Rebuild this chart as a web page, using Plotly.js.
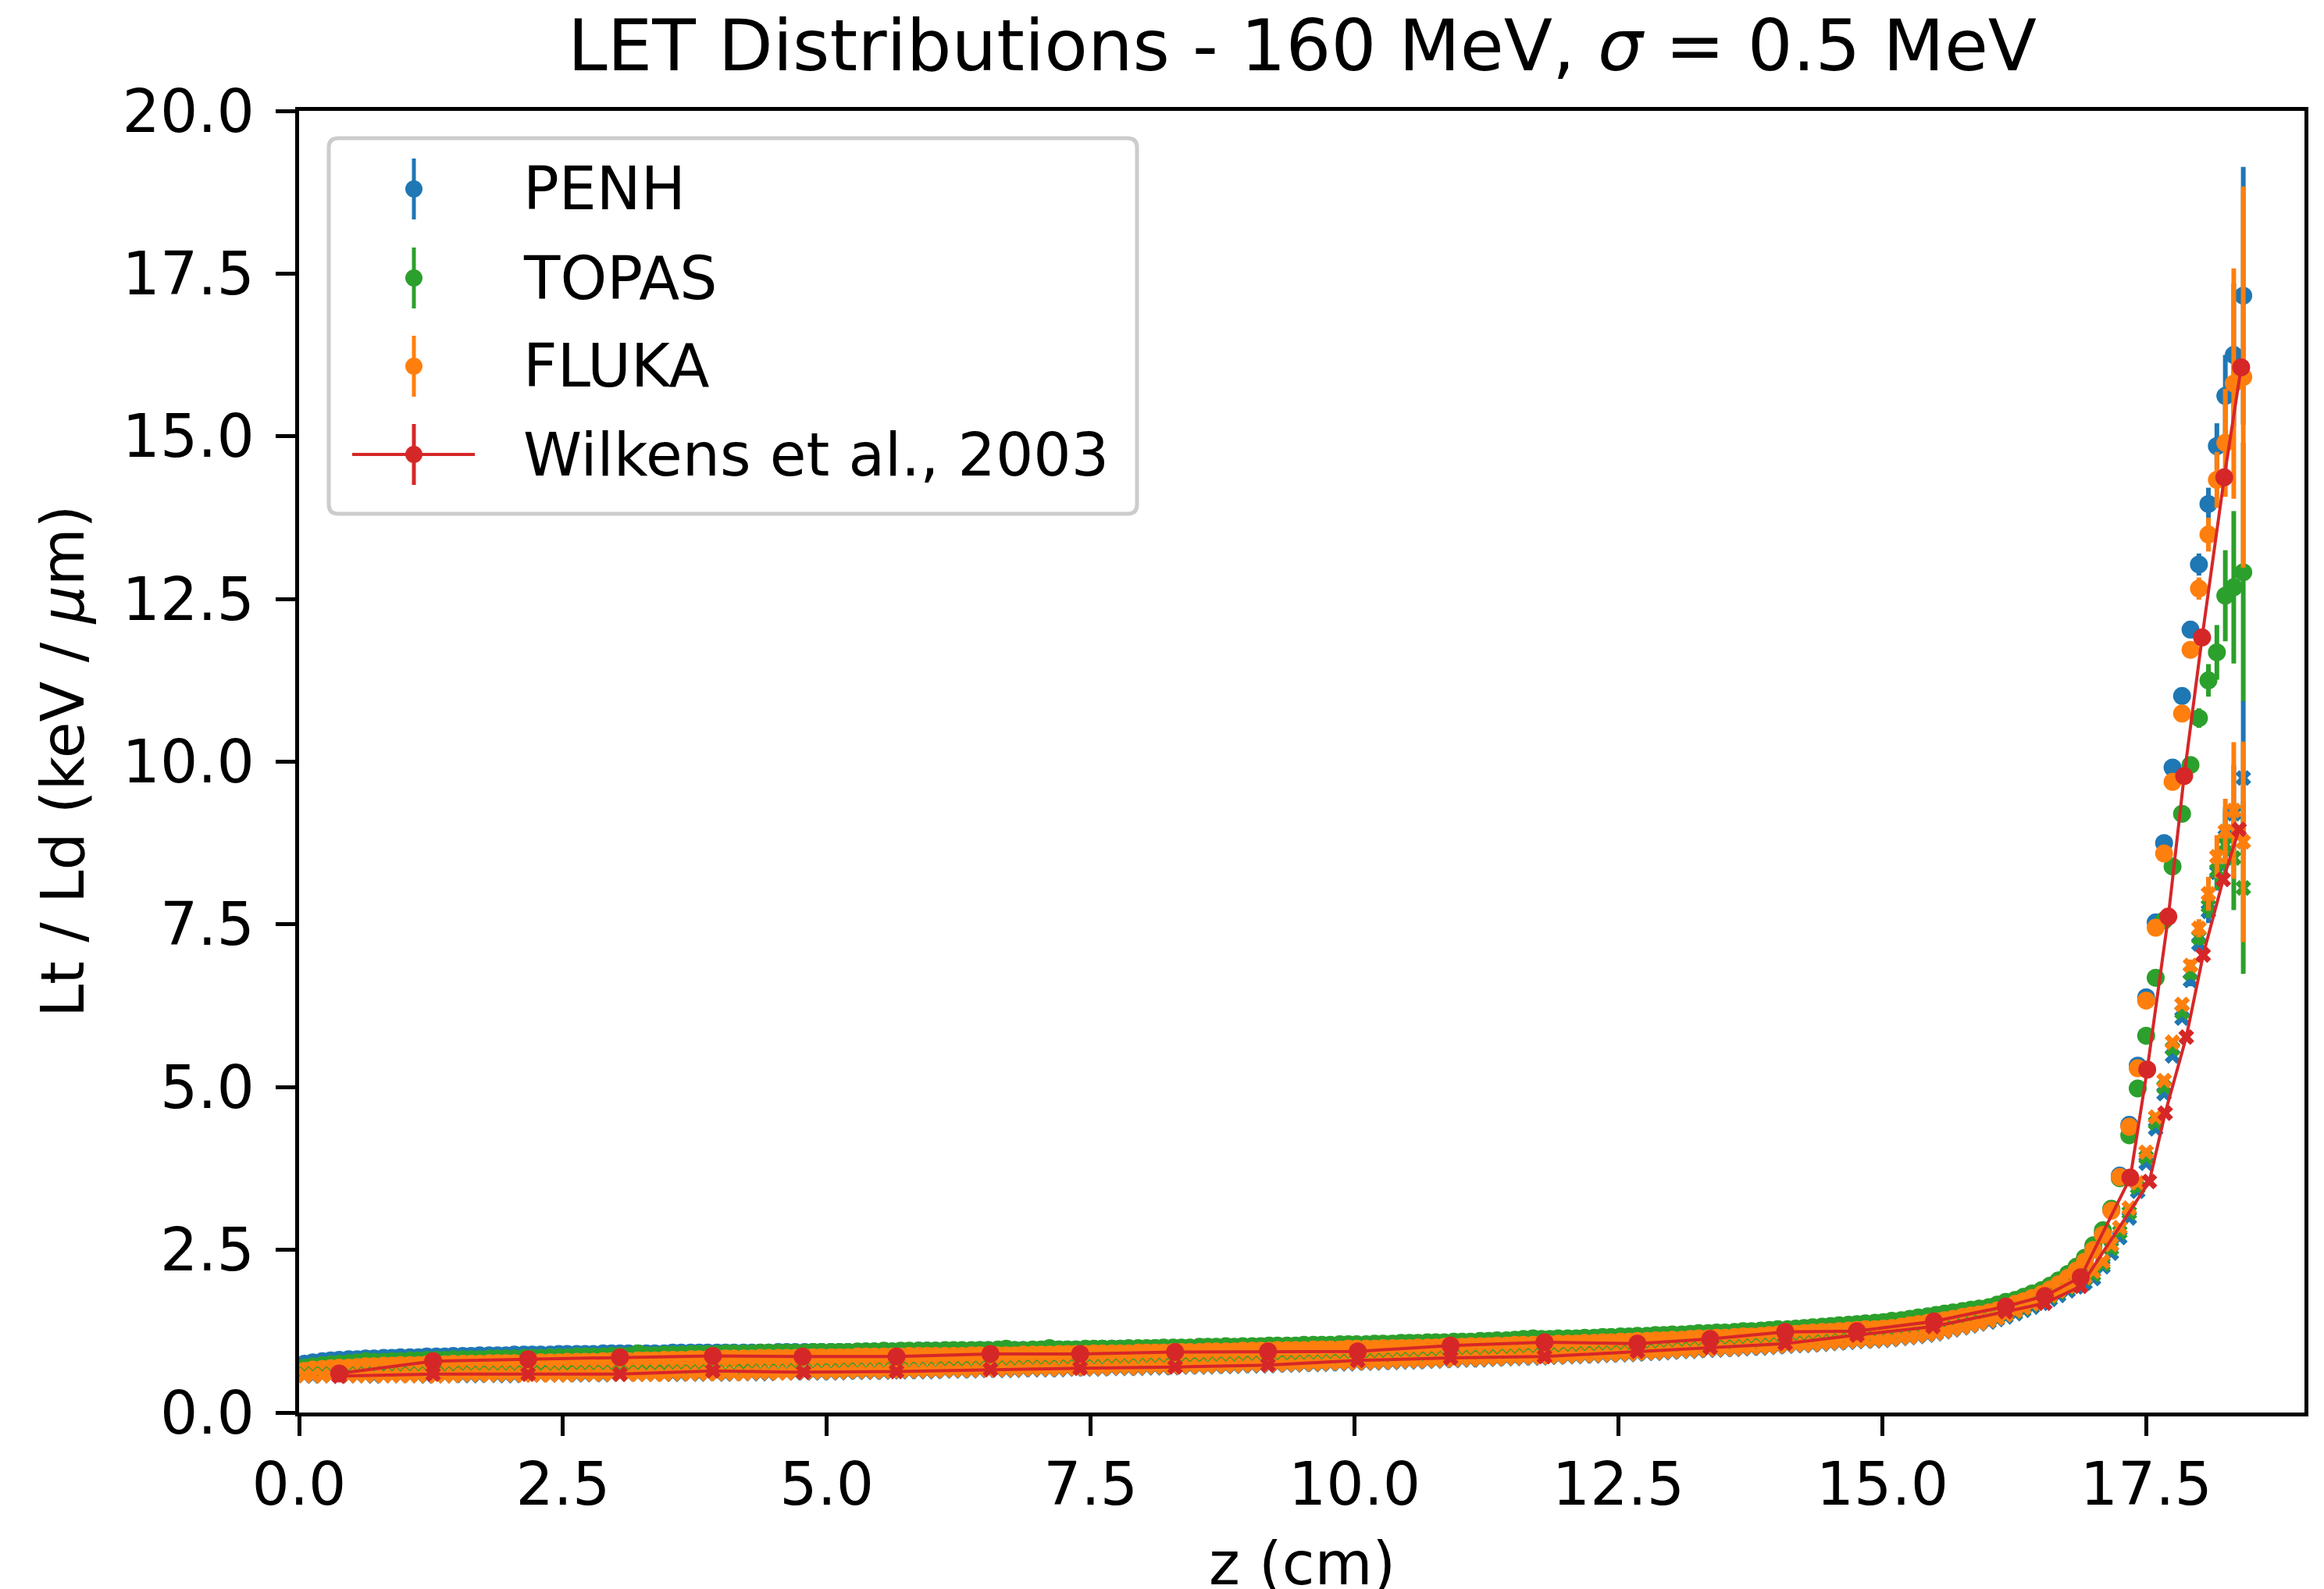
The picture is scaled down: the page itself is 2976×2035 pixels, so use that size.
<!DOCTYPE html>
<html>
<head>
<meta charset="utf-8">
<script src="https://cdn.plot.ly/plotly-3.0.1.min.js"></script>
<style>
  html, body { margin: 0; padding: 0; background: #ffffff; }
  #chart { width: 2976px; height: 2035px; }
</style>
</head>
<body>
<div id="chart"></div>
<script>
// Depth bins (cm) shared by the three Monte Carlo codes
const zMC = [
  0.05, 0.13, 0.22, 0.30, 0.38, 0.47, 0.55, 0.63, 0.71, 0.80, 0.88, 0.96,
  1.05, 1.13, 1.21, 1.30, 1.38, 1.46, 1.55, 1.63, 1.71, 1.80, 1.88, 1.96,
  2.04, 2.13, 2.21, 2.29, 2.38, 2.46, 2.54, 2.63, 2.71, 2.79, 2.88, 2.96,
  3.04, 3.12, 3.21, 3.29, 3.37, 3.46, 3.54, 3.62, 3.71, 3.79, 3.87, 3.96,
  4.04, 4.12, 4.21, 4.29, 4.37, 4.45, 4.54, 4.62, 4.70, 4.79, 4.87, 4.95,
  5.04, 5.12, 5.20, 5.29, 5.37, 5.45, 5.54, 5.62, 5.70, 5.78, 5.87, 5.95,
  6.03, 6.12, 6.20, 6.28, 6.37, 6.45, 6.53, 6.62, 6.70, 6.78, 6.86, 6.95,
  7.03, 7.11, 7.20, 7.28, 7.36, 7.45, 7.53, 7.61, 7.70, 7.78, 7.86, 7.95,
  8.03, 8.11, 8.19, 8.28, 8.36, 8.44, 8.53, 8.61, 8.69, 8.78, 8.86, 8.94,
  9.03, 9.11, 9.19, 9.27, 9.36, 9.44, 9.52, 9.61, 9.69, 9.77, 9.86, 9.94,
  10.02, 10.11, 10.19, 10.27, 10.36, 10.44, 10.52, 10.60, 10.69, 10.77, 10.85, 10.94,
  11.02, 11.10, 11.19, 11.27, 11.35, 11.44, 11.52, 11.60, 11.69, 11.77, 11.85, 11.93,
  12.02, 12.10, 12.18, 12.27, 12.35, 12.43, 12.52, 12.60, 12.68, 12.77, 12.85, 12.93,
  13.01, 13.10, 13.18, 13.26, 13.35, 13.43, 13.51, 13.60, 13.68, 13.76, 13.85, 13.93,
  14.01, 14.10, 14.18, 14.26, 14.34, 14.43, 14.51, 14.59, 14.68, 14.76, 14.84, 14.93,
  15.01, 15.09, 15.18, 15.26, 15.34, 15.43, 15.51, 15.59, 15.67, 15.76, 15.84, 15.92,
  16.01, 16.09, 16.17, 16.26, 16.34, 16.42, 16.51, 16.59, 16.67, 16.76, 16.84, 16.92,
  17.00, 17.09, 17.17, 17.25, 17.34, 17.42, 17.50, 17.59, 17.67, 17.75, 17.84, 17.92,
  18.00, 18.09, 18.17, 18.25, 18.33, 18.42
];

// Track-averaged LET (keV/um)
const penhLt = [
  0.75, 0.77, 0.79, 0.80, 0.81, 0.82, 0.82, 0.83, 0.83, 0.84, 0.84, 0.85,
  0.85, 0.85, 0.86, 0.86, 0.86, 0.87, 0.87, 0.87, 0.88, 0.88, 0.88, 0.88,
  0.89, 0.89, 0.89, 0.89, 0.89, 0.90, 0.90, 0.90, 0.90, 0.90, 0.91, 0.91,
  0.91, 0.91, 0.91, 0.91, 0.91, 0.91, 0.92, 0.92, 0.92, 0.92, 0.92, 0.92,
  0.92, 0.92, 0.92, 0.92, 0.92, 0.92, 0.93, 0.93, 0.93, 0.93, 0.93, 0.93,
  0.93, 0.93, 0.93, 0.93, 0.94, 0.94, 0.94, 0.94, 0.94, 0.94, 0.95, 0.95,
  0.95, 0.95, 0.95, 0.95, 0.95, 0.96, 0.96, 0.96, 0.96, 0.96, 0.96, 0.96,
  0.96, 0.96, 0.97, 0.97, 0.97, 0.97, 0.97, 0.98, 0.98, 0.98, 0.98, 0.98,
  0.98, 0.99, 0.99, 0.99, 0.99, 0.99, 1.00, 1.00, 1.00, 1.00, 1.00, 1.01,
  1.01, 1.01, 1.01, 1.02, 1.02, 1.02, 1.02, 1.03, 1.03, 1.03, 1.03, 1.04,
  1.04, 1.04, 1.04, 1.05, 1.05, 1.05, 1.05, 1.06, 1.06, 1.06, 1.07, 1.07,
  1.07, 1.08, 1.08, 1.08, 1.09, 1.09, 1.10, 1.10, 1.10, 1.11, 1.11, 1.12,
  1.13, 1.13, 1.13, 1.14, 1.14, 1.15, 1.15, 1.16, 1.16, 1.17, 1.17, 1.18,
  1.19, 1.19, 1.20, 1.20, 1.21, 1.22, 1.22, 1.23, 1.23, 1.24, 1.25, 1.25,
  1.27, 1.27, 1.28, 1.29, 1.30, 1.31, 1.32, 1.33, 1.34, 1.35, 1.36, 1.37,
  1.38, 1.40, 1.41, 1.43, 1.45, 1.47, 1.49, 1.51, 1.53, 1.55, 1.57, 1.59,
  1.61, 1.64, 1.68, 1.71, 1.76, 1.81, 1.86, 1.93, 2.01, 2.11, 2.22, 2.36,
  2.54, 2.76, 3.12, 3.64, 4.42, 5.33, 6.38, 7.53, 8.75, 9.91, 11.01, 12.03,
  13.03, 13.96, 14.85, 15.62, 16.25, 17.16
];
const topasLt = [
  0.69, 0.71, 0.73, 0.74, 0.75, 0.76, 0.77, 0.79, 0.78, 0.78, 0.79, 0.79,
  0.80, 0.80, 0.81, 0.81, 0.81, 0.82, 0.82, 0.82, 0.82, 0.83, 0.83, 0.83,
  0.83, 0.84, 0.84, 0.84, 0.85, 0.85, 0.85, 0.86, 0.86, 0.86, 0.86, 0.87,
  0.87, 0.87, 0.91, 0.88, 0.88, 0.89, 0.89, 0.89, 0.90, 0.90, 0.90, 0.90,
  0.91, 0.91, 0.91, 0.91, 0.92, 0.92, 0.92, 0.92, 0.92, 0.92, 0.93, 0.93,
  0.93, 0.93, 0.93, 0.94, 0.94, 0.94, 0.95, 0.94, 0.95, 0.95, 0.95, 0.95,
  0.95, 0.96, 0.96, 0.96, 0.96, 0.96, 0.96, 0.97, 0.98, 0.96, 0.96, 0.97,
  0.97, 0.99, 0.97, 0.97, 0.97, 0.98, 0.98, 0.98, 0.98, 0.98, 0.99, 0.99,
  0.99, 0.99, 1.00, 1.00, 1.00, 1.00, 1.01, 1.01, 1.01, 1.02, 1.01, 1.02,
  1.02, 1.02, 1.03, 1.03, 1.03, 1.03, 1.04, 1.04, 1.04, 1.04, 1.05, 1.05,
  1.05, 1.05, 1.06, 1.06, 1.06, 1.07, 1.07, 1.07, 1.08, 1.08, 1.08, 1.09,
  1.09, 1.09, 1.10, 1.10, 1.11, 1.11, 1.12, 1.13, 1.14, 1.13, 1.13, 1.14,
  1.14, 1.14, 1.15, 1.15, 1.16, 1.16, 1.17, 1.17, 1.18, 1.18, 1.19, 1.19,
  1.20, 1.20, 1.21, 1.22, 1.22, 1.23, 1.23, 1.24, 1.25, 1.25, 1.26, 1.27,
  1.28, 1.28, 1.29, 1.30, 1.31, 1.32, 1.33, 1.34, 1.35, 1.36, 1.37, 1.38,
  1.39, 1.41, 1.42, 1.44, 1.46, 1.48, 1.50, 1.52, 1.54, 1.56, 1.58, 1.60,
  1.62, 1.66, 1.70, 1.73, 1.78, 1.83, 1.88, 1.95, 2.03, 2.13, 2.24, 2.38,
  2.57, 2.80, 3.13, 3.60, 4.26, 4.98, 5.79, 6.68, 7.56, 8.39, 9.20, 9.95,
  10.67, 11.25, 11.68, 12.55, 12.68, 12.91
];
const flukaLt = [
  0.64, 0.66, 0.67, 0.68, 0.69, 0.69, 0.70, 0.71, 0.71, 0.72, 0.72, 0.73,
  0.73, 0.73, 0.74, 0.74, 0.74, 0.75, 0.75, 0.75, 0.75, 0.76, 0.76, 0.76,
  0.76, 0.76, 0.77, 0.77, 0.77, 0.77, 0.78, 0.78, 0.78, 0.78, 0.79, 0.79,
  0.79, 0.79, 0.80, 0.80, 0.80, 0.81, 0.81, 0.81, 0.82, 0.82, 0.82, 0.83,
  0.83, 0.83, 0.83, 0.83, 0.84, 0.84, 0.84, 0.84, 0.84, 0.85, 0.85, 0.85,
  0.85, 0.85, 0.85, 0.86, 0.86, 0.86, 0.86, 0.86, 0.86, 0.87, 0.87, 0.87,
  0.87, 0.87, 0.87, 0.87, 0.88, 0.88, 0.88, 0.88, 0.88, 0.88, 0.89, 0.89,
  0.89, 0.89, 0.90, 0.90, 0.90, 0.90, 0.91, 0.91, 0.91, 0.91, 0.91, 0.92,
  0.92, 0.92, 0.92, 0.93, 0.93, 0.93, 0.93, 0.94, 0.94, 0.94, 0.94, 0.95,
  0.95, 0.95, 0.95, 0.96, 0.96, 0.96, 0.96, 0.97, 0.97, 0.97, 0.97, 0.98,
  0.98, 0.98, 0.98, 0.99, 0.99, 0.99, 0.99, 1.00, 1.00, 1.00, 1.01, 1.01,
  1.01, 1.02, 1.02, 1.02, 1.03, 1.03, 1.04, 1.04, 1.04, 1.05, 1.05, 1.06,
  1.06, 1.06, 1.07, 1.07, 1.08, 1.08, 1.09, 1.09, 1.10, 1.10, 1.11, 1.11,
  1.12, 1.12, 1.13, 1.14, 1.14, 1.15, 1.15, 1.16, 1.17, 1.17, 1.18, 1.19,
  1.20, 1.21, 1.21, 1.22, 1.23, 1.24, 1.24, 1.25, 1.26, 1.27, 1.28, 1.28,
  1.29, 1.30, 1.32, 1.34, 1.36, 1.38, 1.40, 1.42, 1.44, 1.47, 1.49, 1.51,
  1.54, 1.57, 1.61, 1.67, 1.71, 1.76, 1.82, 1.89, 1.97, 2.07, 2.18, 2.32,
  2.50, 2.73, 3.10, 3.62, 4.39, 5.29, 6.33, 7.45, 8.59, 9.69, 10.74, 11.72,
  12.66, 13.49, 14.33, 14.90, 15.81, 15.91
];

// Dose-averaged LET (keV/um)
const penhLd = [
  0.57, 0.56, 0.57, 0.57, 0.56, 0.57, 0.57, 0.57, 0.56, 0.57, 0.57, 0.57,
  0.57, 0.57, 0.56, 0.57, 0.57, 0.57, 0.57, 0.57, 0.57, 0.58, 0.57, 0.57,
  0.57, 0.58, 0.58, 0.58, 0.58, 0.58, 0.58, 0.58, 0.58, 0.59, 0.58, 0.59,
  0.59, 0.59, 0.59, 0.59, 0.59, 0.59, 0.59, 0.59, 0.60, 0.59, 0.60, 0.60,
  0.59, 0.60, 0.60, 0.60, 0.60, 0.60, 0.61, 0.61, 0.61, 0.61, 0.61, 0.61,
  0.61, 0.61, 0.62, 0.62, 0.62, 0.62, 0.62, 0.63, 0.63, 0.63, 0.63, 0.63,
  0.63, 0.64, 0.64, 0.64, 0.64, 0.65, 0.65, 0.65, 0.65, 0.65, 0.66, 0.66,
  0.66, 0.66, 0.66, 0.67, 0.67, 0.67, 0.67, 0.67, 0.68, 0.68, 0.68, 0.68,
  0.69, 0.69, 0.69, 0.69, 0.70, 0.70, 0.70, 0.70, 0.71, 0.71, 0.71, 0.72,
  0.72, 0.72, 0.72, 0.73, 0.73, 0.73, 0.74, 0.74, 0.74, 0.75, 0.75, 0.75,
  0.76, 0.76, 0.76, 0.77, 0.77, 0.78, 0.78, 0.78, 0.79, 0.79, 0.80, 0.80,
  0.81, 0.81, 0.81, 0.82, 0.82, 0.83, 0.83, 0.84, 0.84, 0.84, 0.85, 0.85,
  0.86, 0.86, 0.87, 0.87, 0.88, 0.88, 0.89, 0.89, 0.90, 0.91, 0.91, 0.92,
  0.93, 0.94, 0.94, 0.95, 0.96, 0.96, 0.97, 0.97, 0.98, 0.99, 0.99, 1.00,
  1.01, 1.02, 1.03, 1.03, 1.04, 1.05, 1.06, 1.07, 1.08, 1.09, 1.10, 1.10,
  1.11, 1.12, 1.14, 1.15, 1.17, 1.19, 1.21, 1.24, 1.27, 1.30, 1.33, 1.36,
  1.39, 1.43, 1.47, 1.52, 1.57, 1.62, 1.68, 1.74, 1.80, 1.87, 1.93, 1.99,
  2.06, 2.24, 2.45, 2.69, 2.99, 3.40, 3.83, 4.36, 4.90, 5.48, 6.06, 6.64,
  7.20, 7.70, 8.30, 8.85, 9.20, 9.75
];
const topasLd = [
  0.59, 0.59, 0.59, 0.59, 0.60, 0.59, 0.59, 0.59, 0.59, 0.60, 0.59, 0.59,
  0.59, 0.59, 0.59, 0.60, 0.59, 0.59, 0.60, 0.60, 0.60, 0.60, 0.60, 0.60,
  0.60, 0.60, 0.60, 0.61, 0.60, 0.60, 0.61, 0.61, 0.61, 0.61, 0.61, 0.61,
  0.61, 0.61, 0.61, 0.62, 0.61, 0.62, 0.62, 0.62, 0.62, 0.62, 0.62, 0.62,
  0.62, 0.62, 0.63, 0.63, 0.63, 0.63, 0.63, 0.63, 0.64, 0.64, 0.64, 0.64,
  0.64, 0.64, 0.65, 0.65, 0.65, 0.65, 0.65, 0.66, 0.66, 0.66, 0.66, 0.66,
  0.66, 0.67, 0.67, 0.67, 0.67, 0.68, 0.68, 0.68, 0.68, 0.68, 0.69, 0.69,
  0.69, 0.69, 0.69, 0.70, 0.70, 0.70, 0.70, 0.70, 0.71, 0.71, 0.71, 0.71,
  0.72, 0.72, 0.72, 0.72, 0.73, 0.73, 0.73, 0.73, 0.74, 0.74, 0.74, 0.75,
  0.75, 0.75, 0.75, 0.76, 0.76, 0.76, 0.77, 0.77, 0.77, 0.78, 0.78, 0.78,
  0.79, 0.79, 0.79, 0.80, 0.80, 0.81, 0.81, 0.81, 0.82, 0.82, 0.83, 0.83,
  0.84, 0.84, 0.84, 0.85, 0.85, 0.86, 0.86, 0.87, 0.87, 0.87, 0.88, 0.88,
  0.89, 0.89, 0.90, 0.90, 0.91, 0.91, 0.92, 0.92, 0.93, 0.94, 0.94, 0.95,
  0.96, 0.97, 0.97, 0.98, 0.99, 0.99, 1.00, 1.00, 1.01, 1.02, 1.02, 1.03,
  1.04, 1.05, 1.06, 1.06, 1.07, 1.08, 1.09, 1.10, 1.11, 1.12, 1.13, 1.13,
  1.14, 1.15, 1.17, 1.18, 1.20, 1.22, 1.24, 1.27, 1.30, 1.33, 1.36, 1.39,
  1.42, 1.46, 1.50, 1.55, 1.60, 1.66, 1.72, 1.78, 1.85, 1.92, 1.99, 2.06,
  2.12, 2.28, 2.52, 2.77, 3.07, 3.46, 3.92, 4.45, 5.00, 5.59, 6.15, 6.75,
  7.30, 7.78, 8.33, 8.73, 8.52, 8.06
];
const flukaLd = [
  0.57, 0.57, 0.57, 0.57, 0.57, 0.57, 0.57, 0.57, 0.57, 0.57, 0.57, 0.57,
  0.57, 0.57, 0.57, 0.57, 0.57, 0.57, 0.58, 0.58, 0.58, 0.58, 0.58, 0.58,
  0.58, 0.58, 0.58, 0.58, 0.58, 0.58, 0.58, 0.59, 0.59, 0.59, 0.59, 0.59,
  0.59, 0.59, 0.59, 0.59, 0.59, 0.59, 0.60, 0.60, 0.60, 0.60, 0.60, 0.60,
  0.60, 0.60, 0.60, 0.61, 0.61, 0.61, 0.61, 0.61, 0.62, 0.62, 0.62, 0.62,
  0.62, 0.62, 0.63, 0.63, 0.63, 0.63, 0.63, 0.64, 0.64, 0.64, 0.64, 0.64,
  0.64, 0.65, 0.65, 0.65, 0.65, 0.66, 0.66, 0.66, 0.66, 0.66, 0.67, 0.67,
  0.67, 0.67, 0.67, 0.68, 0.68, 0.68, 0.68, 0.68, 0.69, 0.69, 0.69, 0.69,
  0.70, 0.70, 0.70, 0.70, 0.71, 0.71, 0.71, 0.71, 0.72, 0.72, 0.72, 0.73,
  0.73, 0.73, 0.73, 0.74, 0.74, 0.74, 0.75, 0.75, 0.75, 0.76, 0.76, 0.76,
  0.77, 0.77, 0.77, 0.78, 0.78, 0.79, 0.79, 0.79, 0.80, 0.80, 0.81, 0.81,
  0.82, 0.82, 0.82, 0.83, 0.83, 0.84, 0.84, 0.85, 0.85, 0.85, 0.86, 0.86,
  0.87, 0.87, 0.88, 0.88, 0.89, 0.89, 0.90, 0.90, 0.91, 0.92, 0.92, 0.93,
  0.94, 0.95, 0.95, 0.96, 0.97, 0.97, 0.98, 0.98, 0.99, 1.00, 1.00, 1.01,
  1.02, 1.03, 1.04, 1.04, 1.05, 1.06, 1.07, 1.08, 1.09, 1.10, 1.11, 1.11,
  1.12, 1.13, 1.15, 1.16, 1.18, 1.20, 1.22, 1.25, 1.28, 1.31, 1.34, 1.37,
  1.41, 1.45, 1.50, 1.56, 1.61, 1.67, 1.74, 1.80, 1.87, 1.94, 2.01, 2.08,
  2.17, 2.32, 2.58, 2.84, 3.14, 3.53, 4.00, 4.54, 5.10, 5.69, 6.27, 6.87,
  7.44, 7.97, 8.54, 8.93, 9.25, 8.77
];

// Statistical uncertainties of the last eight bins; shallower bins carry
// uncertainties smaller than the markers and are drawn as zero.
const penhLtErrTail  = [0.08, 0.12, 0.17, 0.25, 0.35, 0.63, 1.10, 1.98];
const topasLtErrTail = [0.08, 0.10, 0.15, 0.25, 0.42, 0.70, 1.17, 1.99];
const flukaLtErrTail = [0.08, 0.12, 0.17, 0.26, 0.43, 0.83, 1.77, 2.93];
const penhLdErrTail  = [0.06, 0.09, 0.12, 0.18, 0.28, 0.45, 0.75, 1.18];
const topasLdErrTail = [0.06, 0.09, 0.12, 0.18, 0.30, 0.50, 0.80, 1.32];
const flukaLdErrTail = [0.06, 0.09, 0.14, 0.26, 0.33, 0.50, 1.05, 1.54];

// Wilkens et al., 2003 (analytical model)
const wilkensLtZ = [0.38, 1.27, 2.17, 3.04, 3.92, 4.77, 5.66, 6.55, 7.40, 8.30, 9.18, 10.03, 10.91, 11.80, 12.68,
  13.37, 14.08, 14.76, 15.49, 16.17, 16.54, 16.88, 17.35, 17.51, 17.71, 17.86, 18.03, 18.24, 18.40];
const wilkensLt  = [0.60, 0.79, 0.82, 0.85, 0.87, 0.86, 0.86, 0.90, 0.90, 0.93, 0.94, 0.94, 1.03, 1.08, 1.06,
  1.13, 1.24, 1.25, 1.40, 1.63, 1.79, 2.08, 3.61, 5.27, 7.62, 9.78, 11.91, 14.37, 16.06];
const wilkensLdZ = [0.38, 1.27, 2.17, 3.04, 3.92, 4.78, 5.66, 6.55, 7.40, 8.30, 9.18, 10.03, 10.91, 11.80, 12.68,
  13.37, 14.08, 14.76, 15.48, 16.17, 16.54, 16.88, 17.53, 17.68, 17.88, 18.04, 18.23, 18.38];
const wilkensLd  = [0.56, 0.59, 0.59, 0.59, 0.64, 0.62, 0.63, 0.66, 0.68, 0.70, 0.73, 0.80, 0.84, 0.86, 0.94,
  1.00, 1.06, 1.19, 1.32, 1.55, 1.68, 1.94, 3.55, 4.60, 5.77, 7.03, 8.19, 8.96];

const legendLabels = ["PENH", "TOPAS", "FLUKA", "Wilkens et al., 2003"];

// ---------------------------------------------------------------------------
const C_BLUE = "#1f77b4", C_ORANGE = "#ff7f0e", C_GREEN = "#2ca02c", C_RED = "#d62728";
const FONT = "DejaVu Sans, Liberation Sans, sans-serif";
const W = 2976, H = 2035;
const PL = 383, PR = 2951, PT = 142, PB = 1809;
const DOT = 23, CROSS = 18, BAR = 6;

function padErr(tail, n) {
  const out = new Array(n - tail.length).fill(0);
  return out.concat(tail);
}
const n = zMC.length;

function mcTrace(y, tail, color, symbol) {
  return {
    type: "scatter", mode: "markers", x: zMC, y: y, showlegend: false,
    marker: { symbol: symbol, size: symbol === "circle" ? DOT : CROSS, color: color, line: { width: 0 } },
    error_y: { type: "data", array: padErr(tail, n), visible: true, color: color, thickness: BAR, width: 0 },
    hoverinfo: "x+y"
  };
}

const traces = [
  mcTrace(penhLt,  penhLtErrTail,  C_BLUE,   "circle"),
  mcTrace(topasLt, topasLtErrTail, C_GREEN,  "circle"),
  mcTrace(flukaLt, flukaLtErrTail, C_ORANGE, "circle"),
  mcTrace(penhLd,  penhLdErrTail,  C_BLUE,   "x"),
  mcTrace(topasLd, topasLdErrTail, C_GREEN,  "x"),
  mcTrace(flukaLd, flukaLdErrTail, C_ORANGE, "x"),
  {
    type: "scatter", mode: "lines+markers", x: wilkensLtZ, y: wilkensLt, showlegend: false,
    line: { color: C_RED, width: 4 },
    marker: { symbol: "circle", size: DOT, color: C_RED, line: { width: 0 } }
  },
  {
    type: "scatter", mode: "lines+markers", x: wilkensLdZ, y: wilkensLd, showlegend: false,
    line: { color: C_RED, width: 4 },
    marker: { symbol: "x", size: CROSS, color: C_RED, line: { width: 0 } }
  }
];

// ---- legend box drawn in pixel offsets from the top-left corner of the axes
function px(X) { return X - PL; }
function py(Y) { return PT - Y; }
function pixShape(extra) {
  return Object.assign({ xref: "paper", yref: "paper", xsizemode: "pixel", ysizemode: "pixel",
    xanchor: 0, yanchor: 1, layer: "above" }, extra);
}
const LB = { x0: 421, x1: 1456, y0: 177, y1: 658, r: 12 };
function roundRect(b) {
  const x0 = px(b.x0), x1 = px(b.x1), y0 = py(b.y0), y1 = py(b.y1), r = b.r;
  return "M" + (x0 + r) + "," + y0 + " L" + (x1 - r) + "," + y0 + " Q" + x1 + "," + y0 + " " + x1 + "," + (y0 - r) +
    " L" + x1 + "," + (y1 + r) + " Q" + x1 + "," + y1 + " " + (x1 - r) + "," + y1 +
    " L" + (x0 + r) + "," + y1 + " Q" + x0 + "," + y1 + " " + x0 + "," + (y1 + r) +
    " L" + x0 + "," + (y0 - r) + " Q" + x0 + "," + y0 + " " + (x0 + r) + "," + y0 + " Z";
}
const shapes = [pixShape({ type: "path", path: roundRect(LB), fillcolor: "rgba(255,255,255,0.8)",
  line: { color: "#cccccc", width: 5 } })];

const legendColors = [C_BLUE, C_GREEN, C_ORANGE, C_RED];
const rowY = [242, 356, 469, 582];
const glyphX = 530, textX = 668;
const annotations = [];
legendColors.forEach(function (c, i) {
  const Y = rowY[i];
  if (i === 3) {
    shapes.push(pixShape({ type: "line", x0: px(451), x1: px(608), y0: py(Y), y1: py(Y),
      line: { color: c, width: 4 } }));
  }
  shapes.push(pixShape({ type: "line", x0: px(glyphX), x1: px(glyphX), y0: py(Y - 39), y1: py(Y + 39),
    line: { color: c, width: 5 } }));
  shapes.push(pixShape({ type: "circle", x0: px(glyphX - 11), x1: px(glyphX + 11), y0: py(Y - 11), y1: py(Y + 11),
    fillcolor: c, line: { width: 0 } }));
  annotations.push({ xref: "paper", yref: "paper", x: (textX - PL) / (PR - PL), y: (PB - Y) / (PB - PT),
    xanchor: "left", yanchor: "middle", showarrow: false, text: legendLabels[i],
    font: { family: FONT, size: 76, color: "#000000" } });
});

annotations.push({ xref: "paper", yref: "paper", x: 0.5, y: (PB - 58) / (PB - PT), xanchor: "center", yanchor: "middle",
  showarrow: false, text: "LET Distributions - 160 MeV, <i>σ</i> = 0.5 MeV",
  font: { family: FONT, size: 91, color: "#000000" } });
annotations.push({ xref: "paper", yref: "paper", x: 0.5, y: (PB - 2002) / (PB - PT), xanchor: "center", yanchor: "middle",
  showarrow: false, text: "z (cm)", font: { family: FONT, size: 76, color: "#000000" } });
annotations.push({ xref: "paper", yref: "paper", x: (80 - PL) / (PR - PL), y: (PB - 975) / (PB - PT),
  xanchor: "center", yanchor: "middle", textangle: -90, showarrow: false,
  text: "Lt / Ld (keV / <i>μ</i>m)", font: { family: FONT, size: 76, color: "#000000" } });

const axisCommon = {
  showgrid: false, zeroline: false, showline: true, mirror: true, linecolor: "#000000", linewidth: 5,
  ticks: "outside", ticklen: 25, tickwidth: 5, tickcolor: "#000000", tickformat: ".1f",
  tickfont: { family: FONT, size: 76, color: "#000000" }, fixedrange: true
};

const layout = {
  width: W, height: H, showlegend: false,
  paper_bgcolor: "#ffffff", plot_bgcolor: "#ffffff",
  margin: { l: PL, r: W - PR, t: PT, b: H - PB, pad: 0 },
  xaxis: Object.assign({}, axisCommon, { range: [0, 19], tick0: 0, dtick: 2.5, ticklabelstandoff: -3 }),
  yaxis: Object.assign({}, axisCommon, { range: [0, 20], tick0: 0, dtick: 2.5, ticklabelstandoff: 12 }),
  shapes: shapes, annotations: annotations
};

Plotly.newPlot("chart", traces, layout, { staticPlot: true, displayModeBar: false });
</script>
</body>
</html>
